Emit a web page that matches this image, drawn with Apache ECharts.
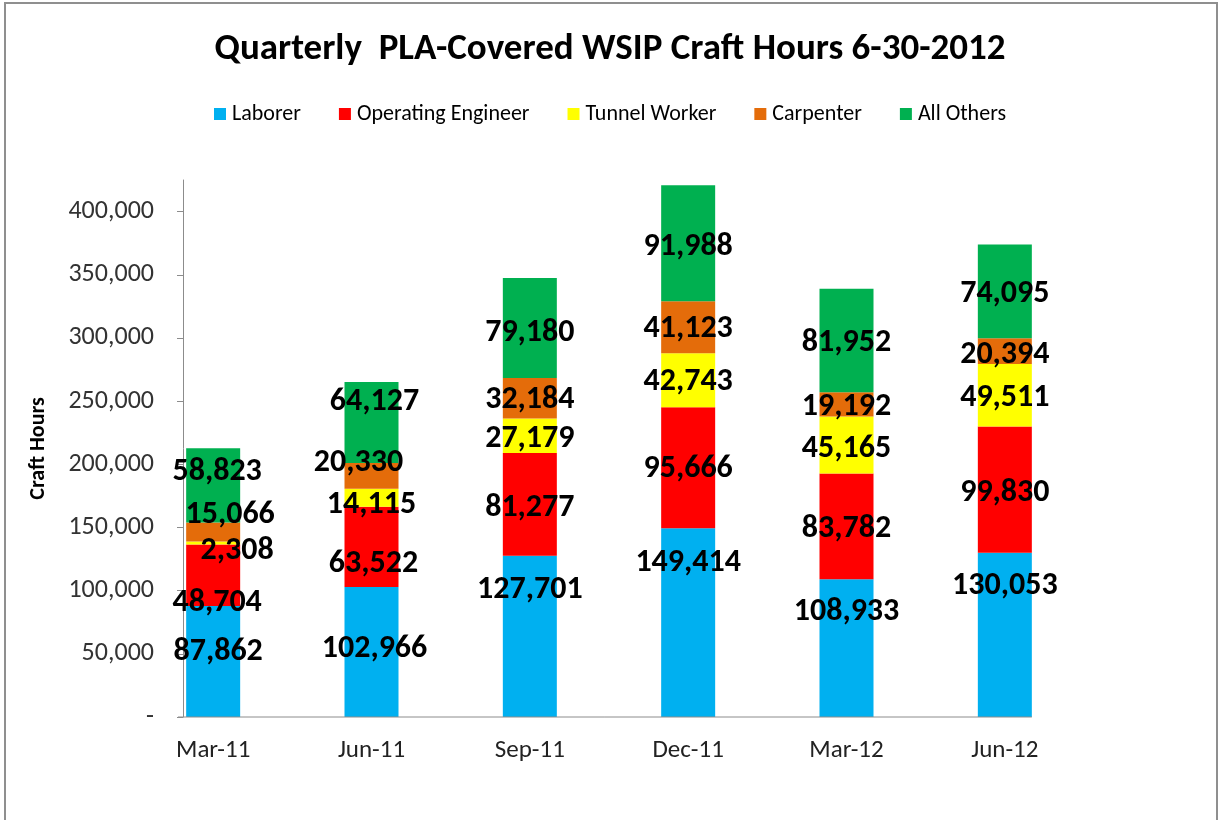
<!DOCTYPE html>
<html>
<head>
<meta charset="utf-8">
<script src="https://cdn.jsdelivr.net/npm/echarts@6/dist/echarts.min.js"></script>
<style>
  html, body { margin: 0; padding: 0; background: #fff; }
  #chart { position: absolute; left: 0; top: 0; width: 1220px; height: 820px; }
  #frame { position: absolute; left: 4px; top: 2px; width: 1210px; height: 900px;
           border: 2px solid #8f8f8f; pointer-events: none; }
</style>
</head>
<body>
<div id="chart"></div>
<div id="frame"></div>
<script>
const categories = ['Mar-11', 'Jun-11', 'Sep-11', 'Dec-11', 'Mar-12', 'Jun-12'];
const laborer = [87862, 102966, 127701, 149414, 108933, 130053];
const operatingEngineer = [48704, 63522, 81277, 95666, 83782, 99830];
const tunnelWorker = [2308, 14115, 27179, 42743, 45165, 49511];
const carpenter = [15066, 20330, 32184, 41123, 19192, 20394];
const allOthers = [58823, 64127, 79180, 91988, 81952, 74095];
const seriesNames = ['Laborer', 'Operating Engineer', 'Tunnel Worker', 'Carpenter', 'All Others'];
const yTicks = [0, 50000, 100000, 150000, 200000, 250000, 300000, 350000, 400000];

// styling: label nudges (px) relative to the segment centre, as in the reference
const nudgeY = [
  [-11, -5, -48, -62, -38, -51],
  [26, 15, 2, -1, 1, 1],
  [6, 5, 1, 0, 2, 1],
  [-19, -15, 0, 0, 1, 2],
  [-15, -23, 3, 2, 1, 1]
];
const nudgeX = [
  [5, 3, 0, 0, 0, 0],
  [4, 2, 0, 0, 0, 0],
  [24, 0, 0, 0, 0, 0],
  [17, -13, 0, 0, 0, 0],
  [4, 3, 0, 0, 0, 0]
];
const NUDGE_BASE = 2;
const colors = ['#00B0F0', '#FF0000', '#FFFF00', '#E46C0A', '#00B050'];
const FONT = 'Carlito, Lato, sans-serif';
const GRID_LEFT = 134, GRID_RIGHT = 136, Y_OFFSET = -49, BAR_W = 54;

const values = [laborer, operatingEngineer, tunnelWorker, carpenter, allOthers];
const fmt = v => v === 0 ? '-' : v.toLocaleString('en-US');

const chart = echarts.init(document.getElementById('chart'));
chart.setOption({
  backgroundColor: '#fff',
  animation: false,
  color: colors,
  title: {
    text: 'Quarterly  PLA-Covered WSIP Craft Hours 6-30-2012',
    left: 'center', top: 26,
    textStyle: { fontFamily: FONT, fontSize: 37, fontWeight: 'bold', color: '#000' }
  },
  legend: {
    top: 98, left: 'center',
    icon: 'rect', itemWidth: 12, itemHeight: 12, itemGap: 38,
    textStyle: { fontFamily: FONT, fontSize: 22, color: '#000', padding: [0, 0, 0, 1] },
    data: seriesNames
  },
  grid: { left: GRID_LEFT, right: GRID_RIGHT, top: 180, bottom: 103, containLabel: false },
  xAxis: {
    type: 'category', data: categories,
    axisLine: { show: false },
    axisTick: { show: false },
    axisLabel: { fontFamily: FONT, fontSize: 25, color: '#222', margin: 21 }
  },
  yAxis: {
    type: 'value', min: 0, max: 425000, interval: 50000,
    offset: Y_OFFSET,
    name: 'Craft Hours', nameLocation: 'middle', nameRotate: 90, nameGap: 134,
    nameTextStyle: { fontFamily: FONT, fontSize: 22, fontWeight: 'bold', color: '#000' },
    axisLine: { show: true, lineStyle: { color: '#8c8c8c', width: 1 } },
    axisTick: { show: true, length: 6, customValues: yTicks, lineStyle: { color: '#8c8c8c' } },
    axisLabel: { customValues: yTicks, formatter: fmt, fontFamily: FONT, fontSize: 26, color: '#333', margin: 29 },
    splitLine: { show: false }
  },
  series: seriesNames.map((name, s) => ({
    name, type: 'bar', stack: 'total', barWidth: BAR_W,
    data: values[s].map((v, i) => ({ value: v, label: { offset: [nudgeX[s][i], nudgeY[s][i] + NUDGE_BASE] } })),
    label: {
      show: true, position: 'inside',
      formatter: p => fmt(p.value),
      fontFamily: FONT, fontSize: 32, fontWeight: 'bold', color: '#000',
      textBorderWidth: 0
    }
  }))
});

// x axis baseline from the y axis to the right edge of the last bar
const y0 = chart.convertToPixel({ yAxisIndex: 0 }, 0);
const xLast = chart.convertToPixel({ xAxisIndex: 0 }, categories.length - 1);
chart.setOption({
  graphic: [{
    type: 'line', z: 100,
    shape: { x1: GRID_LEFT - Y_OFFSET - 5, y1: y0, x2: xLast + BAR_W / 2, y2: y0 },
    style: { stroke: '#8c8c8c', lineWidth: 1 }
  }]
});
</script>
</body>
</html>
